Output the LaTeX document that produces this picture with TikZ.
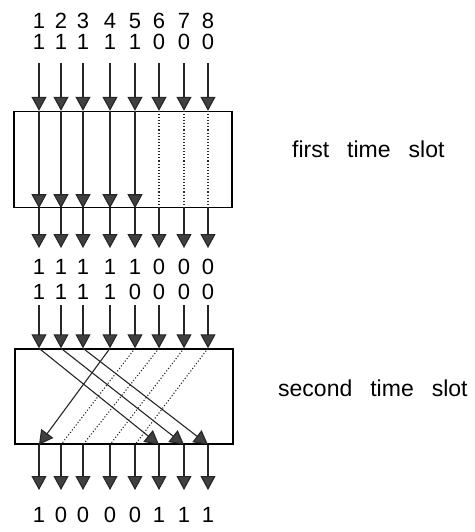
\documentclass[tikz,border=0pt]{standalone}
\usepackage{fontspec}
\setmainfont{Liberation Sans}
\usetikzlibrary{arrows.meta,positioning}

\newcommand\slotfont{\fontsize{23}{28}\selectfont\spaceskip 18pt\relax}

\begin{document}
\begin{tikzpicture}[x=1pt,y=-1pt,>={Triangle[width=15pt,length=14pt,fill=black!75]}]
        \tikzset{box/.style= {draw, rectangle, line width=1.4pt, minimum width=218pt, minimum height=96pt, inner sep=0pt},
            bit/.style= {inner sep=0pt, font=\fontsize{22}{24}\selectfont},
            slot/.style= {inner sep=0pt, anchor=west, font=\slotfont},
            wire/.style= {draw, line width=1.1pt, black!85},
            idle/.style= {draw, line width=1.1pt, black!85, dotted},
        }
        \useasboundingbox (0,0) rectangle (474,532);

        \node [box] (slot1) at (123,159.5) {};
        \node [box, minimum height=95pt] (slot2) at (124,396.5) {};

        \node [slot] (label1) at (292,149) {first time slot};
        \node [slot] (label2) at (278,388) {second time slot};

        % one column per line: x, bits of slot 1, bits before slot 2, bits out
        \foreach \x/\p/\q/\r [count=\i] in {39/1/1/1, 61/1/1/0, 83/1/1/0, 110/1/1/0,
                                             135/1/0/0, 159/0/0/1, 184/0/0/1, 208/0/0/1} {
            \node [bit] (num\i) at (\x,21) {\i};
            \node [bit] (inbit\i) at (\x,42) {\p};
            \node [bit] (onebit\i) at (\x,267) {\p};
            \node [bit] (twobit\i) at (\x,292) {\q};
            \node [bit] (outbit\i) at (\x,515) {\r};

            \coordinate (src\i) at (\x,63);
            \coordinate (top\i) at (slot1.north -| src\i);
            \coordinate (bot\i) at (slot1.south -| src\i);
            \coordinate (mid\i) at (\x,248);
            \coordinate (pre\i) at (\x,305);
            \coordinate (in\i) at (slot2.north -| src\i);
            \coordinate (out\i) at (slot2.south -| src\i);
            \coordinate (end\i) at (\x,490);

            \path[wire, ->]
                (src\i) -- (top\i);
            \path[wire, ->]
                (bot\i) -- (mid\i);
            \path[wire, ->]
                (pre\i) -- (in\i);
            \path[wire, ->]
                (out\i) -- (end\i);
        }

        % first slot: 1..5 pass, 6..8 idle
        \foreach \i in {1,...,5}
            \path[wire, ->] (top\i) -- (bot\i);
        \foreach \i in {6,7,8}
            \path[idle] (top\i) -- (bot\i);

        % second slot: lines swapped
        \foreach \i/\j in {1/6, 2/7, 3/8, 4/1}
            \path[wire, ->] (in\i) -- (out\j);
        \foreach \i/\j in {5/2, 6/3, 7/4, 8/5}
            \path[idle] (in\i) -- (out\j);
\end{tikzpicture}
\end{document}
